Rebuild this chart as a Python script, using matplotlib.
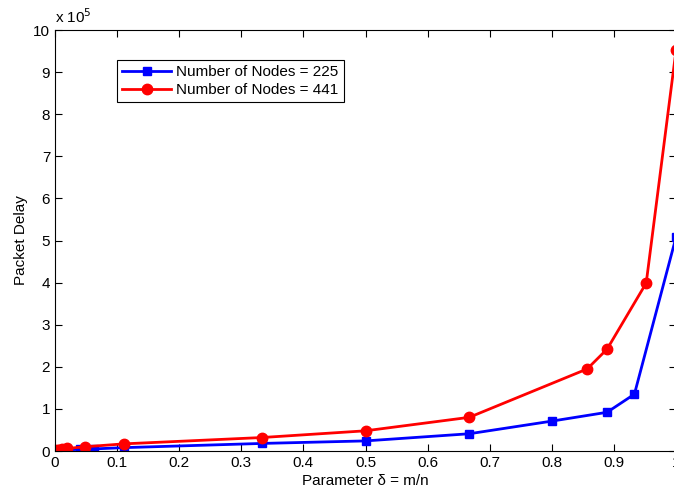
import numpy as np
import matplotlib
matplotlib.use("Agg")
import matplotlib.pyplot as plt

plt.rcParams['font.family'] = ['Liberation Sans', 'DejaVu Sans']

# Number of Nodes = 225
x_225 = [0.003, 0.011, 0.02, 0.04, 0.0625, 0.111, 0.333, 0.5, 0.667, 0.8, 0.889, 0.933, 1.0]
y_225 = [0.01, 0.02, 0.03, 0.04, 0.05, 0.08, 0.18, 0.24, 0.41, 0.71, 0.92, 1.35, 5.08]

# Number of Nodes = 441
x_441 = [0.003, 0.006, 0.011, 0.019, 0.048, 0.111, 0.333, 0.5, 0.667, 0.857, 0.889, 0.952, 1.0]
y_441 = [0.02, 0.03, 0.04, 0.06, 0.10, 0.17, 0.32, 0.48, 0.80, 1.95, 2.42, 3.99, 9.52]

xticks = [0, 0.1, 0.2, 0.3, 0.4, 0.5, 0.6, 0.7, 0.8, 0.9, 1]
yticks = list(range(0, 11))

fig = plt.figure(figsize=(6.74, 4.96), dpi=100)
ax = fig.add_axes([0.0816, 0.0907, 0.9214, 0.8488])

ax.plot(x_225, y_225, color='blue', lw=2, marker='s', ms=6,
        label='Number of Nodes = 225')
ax.plot(x_441, y_441, color='red', lw=2, marker='o', ms=7.5,
        label='Number of Nodes = 441')

ax.set_xlim(0, 1)
ax.set_ylim(0, 10)
ax.set_xticks(xticks)
ax.set_xticklabels([f"{t:g}" for t in xticks])
ax.set_yticks(yticks)
ax.tick_params(direction='in', top=True, right=True, labelsize=11, length=5)
for s in ax.spines.values():
    s.set_linewidth(0.8)

ax.set_xlabel('Parameter δ = m/n', fontsize=11, labelpad=3)
ax.set_ylabel('Packet Delay', fontsize=11, labelpad=4)
ax.text(0.0, 1.01, r'x 10$^5$', transform=ax.transAxes, fontsize=11,
        ha='left', va='bottom')

leg = ax.legend(loc='upper left', bbox_to_anchor=(0.1, 0.929), fontsize=11,
                fancybox=False, edgecolor='black', framealpha=1,
                handlelength=3.2, borderpad=0.35, labelspacing=0.25,
                handletextpad=0.3, borderaxespad=0)
leg.get_frame().set_linewidth(0.8)

fig.savefig('out.png', dpi=100)
